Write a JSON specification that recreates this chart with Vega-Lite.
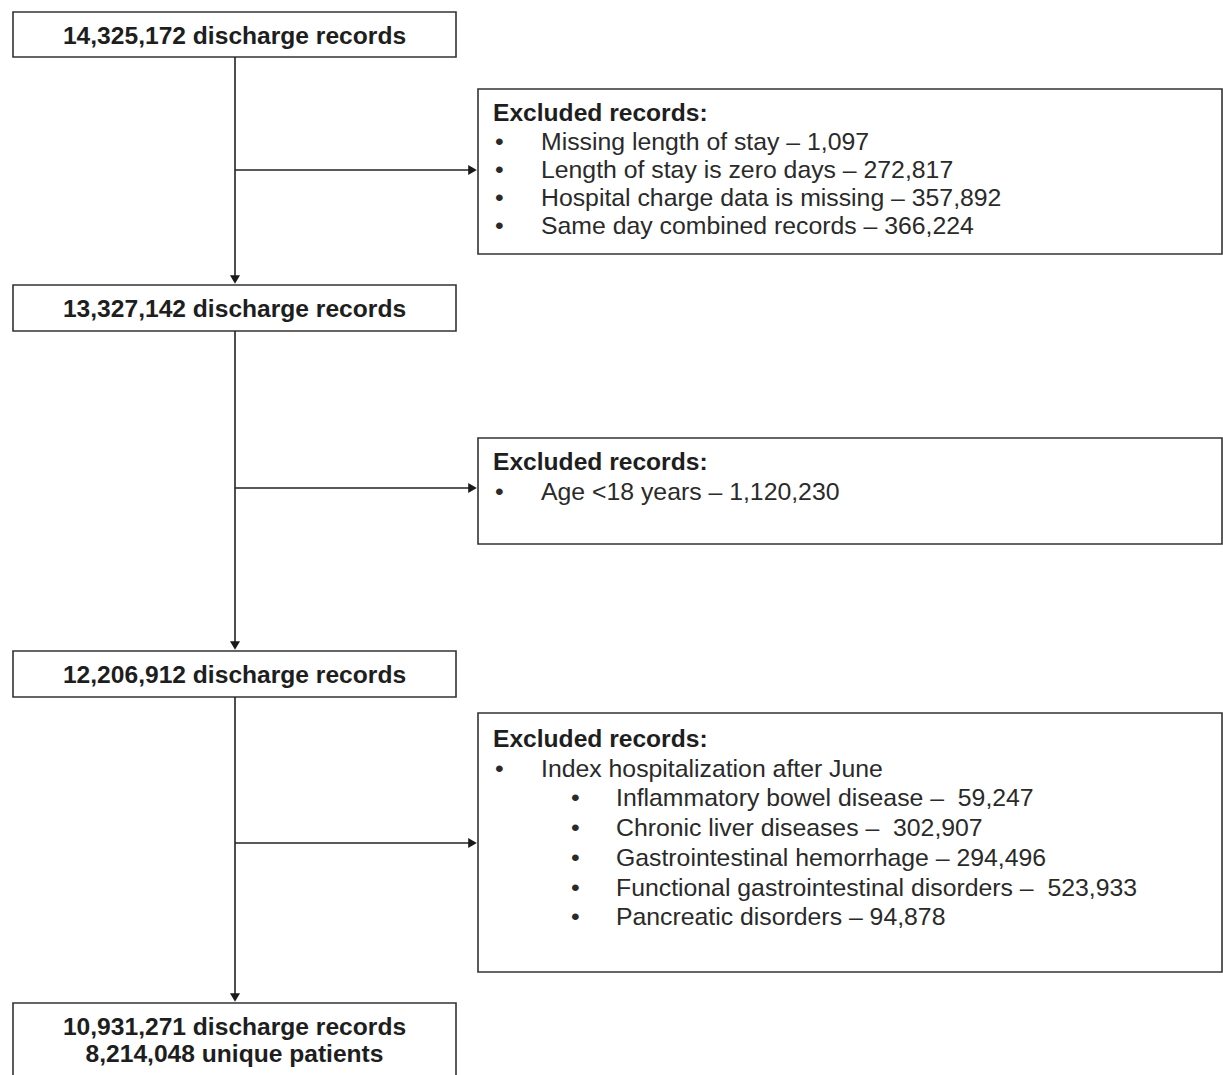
{
  "$schema": "https://vega.github.io/schema/vega-lite/v6.json",
  "width": 1223,
  "height": 1075,
  "padding": 0,
  "autosize": {"type": "fit", "contains": "padding"},
  "background": "white",
  "config": {"view": {"stroke": null}, "axis": null},
  "datasets": {
    "boxes": [
      {"id": "n1", "x": 13, "x2": 456, "y": 12, "y2": 57},
      {"id": "e1", "x": 478, "x2": 1222, "y": 89, "y2": 254},
      {"id": "n2", "x": 13, "x2": 456, "y": 285, "y2": 331},
      {"id": "e2", "x": 478, "x2": 1222, "y": 438, "y2": 544},
      {"id": "n3", "x": 13, "x2": 456, "y": 651, "y2": 697},
      {"id": "e3", "x": 478, "x2": 1222, "y": 713, "y2": 972},
      {"id": "n4", "x": 13, "x2": 456, "y": 1003, "y2": 1085}
    ],
    "links": [
      {"x": 235, "y": 57, "x2": 235, "y2": 279},
      {"x": 235, "y": 331, "x2": 235, "y2": 645},
      {"x": 235, "y": 697, "x2": 235, "y2": 997},
      {"x": 235, "y": 170, "x2": 472, "y2": 170},
      {"x": 235, "y": 488, "x2": 472, "y2": 488},
      {"x": 235, "y": 843, "x2": 472, "y2": 843}
    ],
    "heads": [
      {"dir": "down", "x": 235, "y": 279.5},
      {"dir": "down", "x": 235, "y": 645.5},
      {"dir": "down", "x": 235, "y": 997.5},
      {"dir": "right", "x": 472.5, "y": 170},
      {"dir": "right", "x": 472.5, "y": 488},
      {"dir": "right", "x": 472.5, "y": 843}
    ],
    "labels": [
      {"kind": "main", "x": 234.5, "y": 44, "text": "14,325,172 discharge records"},
      {"kind": "main", "x": 234.5, "y": 317, "text": "13,327,142 discharge records"},
      {"kind": "main", "x": 234.5, "y": 683, "text": "12,206,912 discharge records"},
      {"kind": "main", "x": 234.5, "y": 1035, "text": "10,931,271 discharge records"},
      {"kind": "main", "x": 234.5, "y": 1062, "text": "8,214,048 unique patients"},
      {"kind": "head", "x": 493, "y": 121, "text": "Excluded records:"},
      {"kind": "bullet", "x": 495, "y": 150, "text": "•"},
      {"kind": "item", "x": 541, "y": 150, "text": "Missing length of stay – 1,097"},
      {"kind": "bullet", "x": 495, "y": 178, "text": "•"},
      {"kind": "item", "x": 541, "y": 178, "text": "Length of stay is zero days – 272,817"},
      {"kind": "bullet", "x": 495, "y": 206, "text": "•"},
      {"kind": "item", "x": 541, "y": 206, "text": "Hospital charge data is missing – 357,892"},
      {"kind": "bullet", "x": 495, "y": 234, "text": "•"},
      {"kind": "item", "x": 541, "y": 234, "text": "Same day combined records – 366,224"},
      {"kind": "head", "x": 493, "y": 470, "text": "Excluded records:"},
      {"kind": "bullet", "x": 495, "y": 500, "text": "•"},
      {"kind": "item", "x": 541, "y": 500, "text": "Age <18 years – 1,120,230"},
      {"kind": "head", "x": 493, "y": 747, "text": "Excluded records:"},
      {"kind": "bullet", "x": 495, "y": 777, "text": "•"},
      {"kind": "item", "x": 541, "y": 777, "text": "Index hospitalization after June"},
      {"kind": "bullet", "x": 571, "y": 806, "text": "•"},
      {"kind": "item", "x": 616, "y": 806, "text": "Inflammatory bowel disease –\u00a0 59,247"},
      {"kind": "bullet", "x": 571, "y": 836, "text": "•"},
      {"kind": "item", "x": 616, "y": 836, "text": "Chronic liver diseases –\u00a0 302,907"},
      {"kind": "bullet", "x": 571, "y": 866, "text": "•"},
      {"kind": "item", "x": 616, "y": 866, "text": "Gastrointestinal hemorrhage – 294,496"},
      {"kind": "bullet", "x": 571, "y": 896, "text": "•"},
      {"kind": "item", "x": 616, "y": 896, "text": "Functional gastrointestinal disorders –\u00a0 523,933"},
      {"kind": "bullet", "x": 571, "y": 925, "text": "•"},
      {"kind": "item", "x": 616, "y": 925, "text": "Pancreatic disorders – 94,878"}
    ]
  },
  "layer": [
    {
      "data": {"name": "boxes"},
      "mark": {"type": "rect", "fill": "white", "stroke": "#333333", "strokeWidth": 1.6, "clip": true},
      "encoding": {
        "x": {"field": "x", "type": "quantitative", "scale": {"domain": [0, 1223], "nice": false, "zero": false}, "axis": null},
        "x2": {"field": "x2"},
        "y": {"field": "y", "type": "quantitative", "scale": {"domain": [0, 1075], "nice": false, "zero": false, "reverse": true}, "axis": null},
        "y2": {"field": "y2"}
      }
    },
    {
      "data": {"name": "links"},
      "mark": {"type": "rule", "stroke": "#222222", "strokeWidth": 1.6},
      "encoding": {
        "x": {"field": "x", "type": "quantitative", "scale": {"domain": [0, 1223], "nice": false, "zero": false}, "axis": null},
        "x2": {"field": "x2"},
        "y": {"field": "y", "type": "quantitative", "scale": {"domain": [0, 1075], "nice": false, "zero": false, "reverse": true}, "axis": null},
        "y2": {"field": "y2"}
      }
    },
    {
      "data": {"name": "heads"},
      "transform": [{"filter": "datum.dir === 'down'"}],
      "mark": {"type": "point", "shape": "triangle-down", "filled": true, "color": "#1a1a1a", "size": 100, "opacity": 1},
      "encoding": {
        "x": {"field": "x", "type": "quantitative", "scale": {"domain": [0, 1223], "nice": false, "zero": false}, "axis": null},
        "y": {"field": "y", "type": "quantitative", "scale": {"domain": [0, 1075], "nice": false, "zero": false, "reverse": true}, "axis": null}
      }
    },
    {
      "data": {"name": "heads"},
      "transform": [{"filter": "datum.dir === 'right'"}],
      "mark": {"type": "point", "shape": "triangle-right", "filled": true, "color": "#1a1a1a", "size": 100, "opacity": 1},
      "encoding": {
        "x": {"field": "x", "type": "quantitative", "scale": {"domain": [0, 1223], "nice": false, "zero": false}, "axis": null},
        "y": {"field": "y", "type": "quantitative", "scale": {"domain": [0, 1075], "nice": false, "zero": false, "reverse": true}, "axis": null}
      }
    },
    {
      "data": {"name": "labels"},
      "transform": [{"filter": "datum.kind === 'main'"}],
      "mark": {"type": "text", "font": "Liberation Sans", "fontSize": 24.6, "fontWeight": "bold", "align": "center", "baseline": "alphabetic", "color": "#1e1e1e"},
      "encoding": {
        "x": {"field": "x", "type": "quantitative", "scale": {"domain": [0, 1223], "nice": false, "zero": false}, "axis": null},
        "y": {"field": "y", "type": "quantitative", "scale": {"domain": [0, 1075], "nice": false, "zero": false, "reverse": true}, "axis": null},
        "text": {"field": "text"}
      }
    },
    {
      "data": {"name": "labels"},
      "transform": [{"filter": "datum.kind === 'head'"}],
      "mark": {"type": "text", "font": "Liberation Sans", "fontSize": 24.6, "fontWeight": "bold", "align": "left", "baseline": "alphabetic", "color": "#1e1e1e"},
      "encoding": {
        "x": {"field": "x", "type": "quantitative", "scale": {"domain": [0, 1223], "nice": false, "zero": false}, "axis": null},
        "y": {"field": "y", "type": "quantitative", "scale": {"domain": [0, 1075], "nice": false, "zero": false, "reverse": true}, "axis": null},
        "text": {"field": "text"}
      }
    },
    {
      "data": {"name": "labels"},
      "transform": [{"filter": "datum.kind === 'item' || datum.kind === 'bullet'"}],
      "mark": {"type": "text", "font": "Liberation Sans", "fontSize": 24.8, "align": "left", "baseline": "alphabetic", "color": "#2a2a2a"},
      "encoding": {
        "x": {"field": "x", "type": "quantitative", "scale": {"domain": [0, 1223], "nice": false, "zero": false}, "axis": null},
        "y": {"field": "y", "type": "quantitative", "scale": {"domain": [0, 1075], "nice": false, "zero": false, "reverse": true}, "axis": null},
        "text": {"field": "text"}
      }
    }
  ]
}
